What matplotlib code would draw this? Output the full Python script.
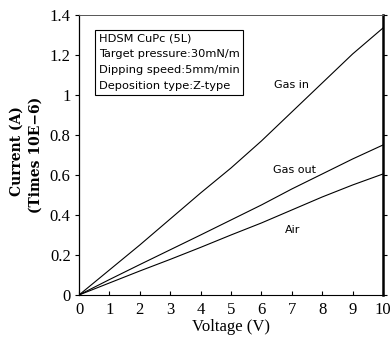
import matplotlib
matplotlib.use("Agg")
import matplotlib.pyplot as plt
from matplotlib.ticker import FuncFormatter

# values (current in units of 1E-6 A)
voltage = [0, 1, 2, 3, 4, 5, 6, 7, 8, 9, 10]
gas_in = [0, 0.125, 0.25, 0.38, 0.51, 0.635, 0.77, 0.915, 1.06, 1.205, 1.335]
gas_out = [0, 0.077, 0.152, 0.226, 0.30, 0.375, 0.45, 0.53, 0.605, 0.68, 0.75]
air = [0, 0.06, 0.12, 0.178, 0.238, 0.30, 0.36, 0.425, 0.49, 0.55, 0.605]

curve_labels = ["Gas in", "Gas out", "Air"]
label_pos = [(6.98, 1.05), (7.08, 0.625), (7.02, 0.325)]

info_lines = ["HDSM CuPc (5L)",
              "Target pressure:30mN/m",
              "Dipping speed:5mm/min",
              "Deposition type:Z-type"]

SERIF = "Liberation Serif"

fig = plt.figure(figsize=(3.9, 3.45), dpi=100)
ax = fig.add_axes([0.2026, 0.145, 0.7794, 0.8115])

for ys in (gas_in, gas_out, air):
    ax.plot(voltage, ys, color="black", lw=0.8)

for txt, (x, y) in zip(curve_labels, label_pos):
    ax.text(x, y, txt, ha="center", va="center", fontsize=8,
            family="DejaVu Sans")

# info box in upper left
ax.text(0.065, 0.935, "\n".join(info_lines), transform=ax.transAxes,
        ha="left", va="top", fontsize=8.2, family="DejaVu Sans",
        linespacing=1.75,
        bbox=dict(boxstyle="square,pad=0.3", fc="white", ec="black", lw=0.8))

ax.set_xlim(0, 10)
ax.set_ylim(0, 1.4)
ax.set_xticks(range(0, 11))
ax.set_yticks([0, 0.2, 0.4, 0.6, 0.8, 1.0, 1.2, 1.4])
ax.yaxis.set_major_formatter(FuncFormatter(lambda v, p: "%g" % round(v, 1)))
ax.tick_params(axis="x", direction="in", length=3, width=0.8, pad=5)
ax.tick_params(axis="y", direction="out", length=3, width=0.8, pad=3,
               right=True)
for lab in ax.get_xticklabels() + ax.get_yticklabels():
    lab.set_family(SERIF)
    lab.set_fontsize(12)

ax.spines["right"].set_linewidth(1.8)
ax.spines["top"].set_linewidth(0.7)
ax.spines["top"].set_color("#555555")
ax.spines["bottom"].set_linewidth(0.8)
ax.spines["left"].set_linewidth(0.9)

ax.set_xlabel("Voltage (V)", family=SERIF, fontsize=12, labelpad=1)

# two-line y label
fig.text(0.044, 0.562, "Current (A)", rotation=90, ha="center", va="center",
         family="DejaVu Serif", fontweight="bold", fontsize=10)
fig.text(0.091, 0.551, "(Times 10E\u22126)", rotation=90, ha="center",
         va="center", family="DejaVu Serif", fontweight="bold", fontsize=10)

fig.savefig("out.png", dpi=100)
